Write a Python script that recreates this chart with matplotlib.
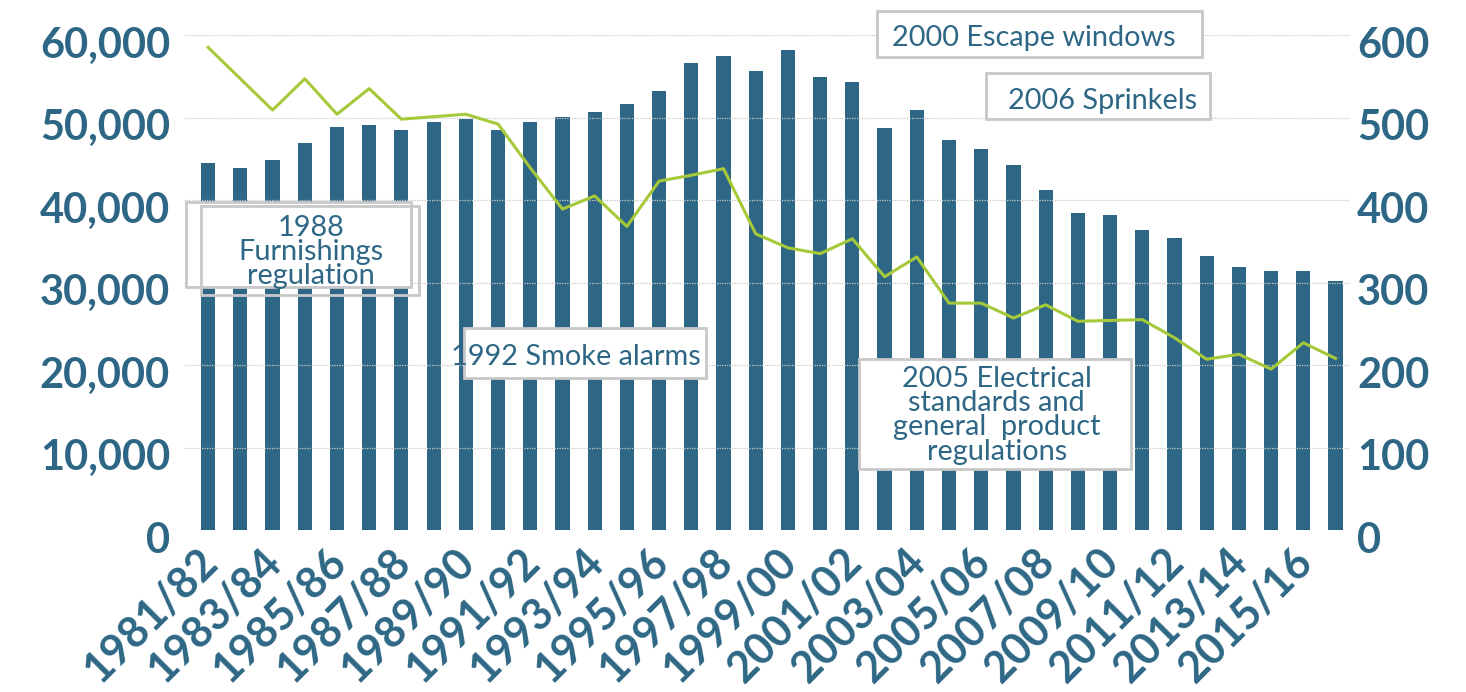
import matplotlib
matplotlib.use("Agg")
import matplotlib.pyplot as plt
from matplotlib.patches import Rectangle
from matplotlib.transforms import ScaledTranslation

plt.rcParams['font.family'] = ['Lato', 'DejaVu Sans']

BLUE = '#2e6785'
GREEN = '#a6c93a'
GRID = '#c8c8c8'
BOX = '#c8c8c8'

years = ['1981/82', '1982/83', '1983/84', '1984/85', '1985/86', '1986/87',
         '1987/88', '1988/89', '1989/90', '1990/91', '1991/92', '1992/93',
         '1993/94', '1994/95', '1995/96', '1996/97', '1997/98', '1998/99',
         '1999/00', '2000/01', '2001/02', '2002/03', '2003/04', '2004/05',
         '2005/06', '2006/07', '2007/08', '2008/09', '2009/10', '2010/11',
         '2011/12', '2012/13', '2013/14', '2014/15', '2015/16', '2016/17']

# bars, left axis
dwelling_fires = [44500, 43900, 44850, 46900, 48850, 49100, 48500, 49450,
                  49800, 48500, 49450, 50050, 50650, 51650, 53200, 56600,
                  57450, 55640, 58200, 54900, 54300, 48700, 50900, 47300,
                  46200, 44240, 41200, 38400, 38180, 36360, 35400, 33200,
                  31900, 31400, 31400, 30200]

# line, right axis
fire_deaths = [585, 547, 509, 547, 504, 535, 498, 501, 504, 492, 439, 389,
               405, 368, 423, 430, 438, 359, 342, 335, 353, 307, 331, 275,
               275, 257, 273, 253, 254, 255, 233, 207, 213, 195, 227, 208]

left_ticks = [0, 10000, 20000, 30000, 40000, 50000, 60000]
right_ticks = [0, 100, 200, 300, 400, 500, 600]

fig = plt.figure(figsize=(14.66, 6.92), dpi=100)
ax = fig.add_axes([0.1255, 0.2341, 0.7954, 0.7153])

x = list(range(len(years)))
ax.bar(x, dwelling_fires, width=0.44, color=BLUE, zorder=1)
ax.set_xlim(-0.75, 35.45)
ax.set_ylim(0, 60000)

for v in left_ticks[1:]:
    ax.axhline(v, color=GRID, lw=0.9, ls=(0, (1, 1)), zorder=2)

ax.set_yticks(left_ticks)
ax.set_yticklabels([f'{v:,}' for v in left_ticks], fontsize=30,
                   fontweight='bold', color=BLUE)
ax.set_xticks(x[::2])
ax.set_xticklabels(years[::2], fontsize=31, fontweight='bold', color=BLUE,
                   rotation=45, ha='right', va='top', rotation_mode='anchor')
ax.tick_params(axis='y', length=0, pad=10)
ax.tick_params(axis='x', length=0, pad=6)
for s in ax.spines.values():
    s.set_visible(False)

ax2 = ax.twinx()
ax2.plot(x, fire_deaths, color=GREEN, lw=2.2, zorder=3)
ax2.set_ylim(0, 600)
ax2.set_yticks(right_ticks)
ax2.set_yticklabels([str(v) for v in right_ticks], fontsize=30,
                    fontweight='bold', color=BLUE)
ax2.tick_params(axis='y', length=0, pad=5)
for s in ax2.spines.values():
    s.set_visible(False)

# tick labels sit a little below their gridlines in the original
shift = ScaledTranslation(0, -0.07, fig.dpi_scale_trans)
for lbl in ax.get_yticklabels() + ax2.get_yticklabels():
    lbl.set_transform(lbl.get_transform() + shift)
xshift = ScaledTranslation(-0.12, -0.03, fig.dpi_scale_trans)
for lbl in ax.get_xticklabels():
    lbl.set_transform(lbl.get_transform() + xshift)


def note(x0, x1, y0, y1, text, tx, ty, ghost=None):
    ax.add_patch(Rectangle((x0, y0), x1 - x0, y1 - y0, facecolor='white',
                           edgecolor=BOX, lw=2, zorder=4, clip_on=False))
    if ghost:
        gx0, gx1, gy0, gy1 = ghost
        ax.add_patch(Rectangle((gx0, gy0), gx1 - gx0, gy1 - gy0,
                               facecolor='none', edgecolor=BOX, lw=2,
                               zorder=4, clip_on=False))
    ax.text(tx, ty, text, fontsize=20.8, color=BLUE, ha='center', va='center',
            linespacing=0.92, zorder=5, clip_on=False)


note(-0.68, 6.30, 29455, 39758, '1988\nFurnishings\nregulation', 3.2, 33700,
     ghost=(-0.22, 6.55, 28485, 39273))
note(7.94, 15.45, 18424, 24485, '1992 Smoke alarms', 11.42, 20970)
note(20.76, 30.84, 57333, 62909, '2000 Escape windows', 25.62, 59636)
note(24.14, 31.09, 49818, 55394, '2006 Sprinkels', 27.77, 52000)
note(20.20, 28.64, 7394, 20727,
     '2005 Electrical\nstandards and\ngeneral  product\nregulations',
     24.48, 13900)

fig.savefig('out.png', dpi=100)
